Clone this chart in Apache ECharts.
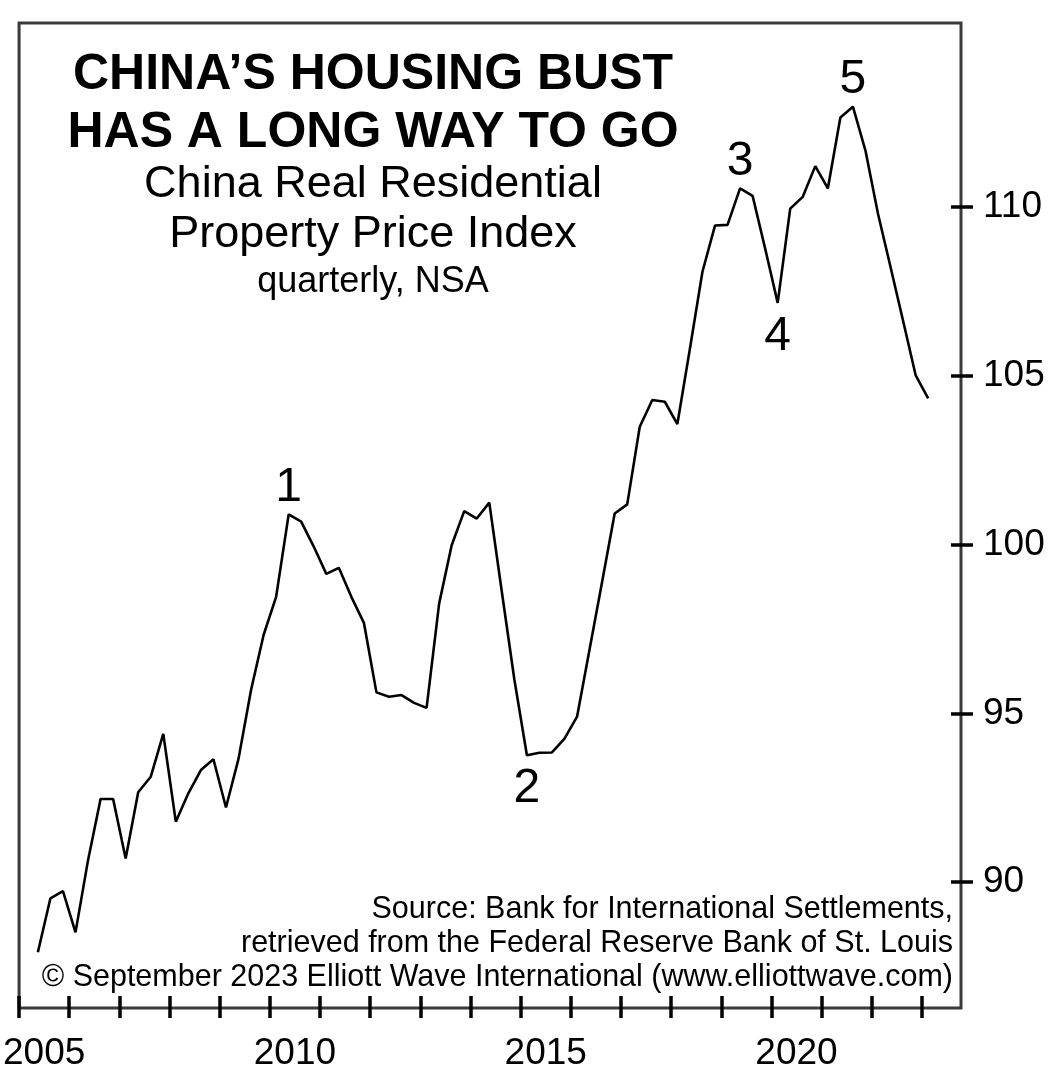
<!DOCTYPE html>
<html>
<head>
<meta charset="utf-8">
<script src="https://cdn.jsdelivr.net/npm/echarts@6/dist/echarts.min.js"></script>
<style>
html, body {margin: 0; padding: 0; background: #ffffff;}
#chart {width: 1060px; height: 1078px;}
</style>
</head>
<body>
<div id="chart"></div>
<script>
// quarterly observations, 2005Q2 .. 2023Q1
var quarters = [
	"2005Q2", "2005Q3", "2005Q4",
	"2006Q1", "2006Q2", "2006Q3", "2006Q4",
	"2007Q1", "2007Q2", "2007Q3", "2007Q4",
	"2008Q1", "2008Q2", "2008Q3", "2008Q4",
	"2009Q1", "2009Q2", "2009Q3", "2009Q4",
	"2010Q1", "2010Q2", "2010Q3", "2010Q4",
	"2011Q1", "2011Q2", "2011Q3", "2011Q4",
	"2012Q1", "2012Q2", "2012Q3", "2012Q4",
	"2013Q1", "2013Q2", "2013Q3", "2013Q4",
	"2014Q1", "2014Q2", "2014Q3", "2014Q4",
	"2015Q1", "2015Q2", "2015Q3", "2015Q4",
	"2016Q1", "2016Q2", "2016Q3", "2016Q4",
	"2017Q1", "2017Q2", "2017Q3", "2017Q4",
	"2018Q1", "2018Q2", "2018Q3", "2018Q4",
	"2019Q1", "2019Q2", "2019Q3", "2019Q4",
	"2020Q1", "2020Q2", "2020Q3", "2020Q4",
	"2021Q1", "2021Q2", "2021Q3", "2021Q4",
	"2022Q1", "2022Q2", "2022Q3", "2022Q4",
	"2023Q1"
];
var priceIndex = [
	87.92, 89.52, 89.73,
	88.51, 90.65, 92.46, 92.46,
	90.70, 92.66, 93.12, 94.39,
	91.79, 92.63, 93.32, 93.64,
	92.21, 93.65, 95.69, 97.32,
	98.45, 100.89, 100.68, 99.94,
	99.13, 99.31, 98.45, 97.68,
	95.62, 95.49, 95.54, 95.31,
	95.16, 98.25, 99.98, 100.99,
	100.77, 101.24, 98.60, 96.00,
	93.76, 93.83, 93.84, 94.25,
	94.90, 96.90, 98.90, 100.92,
	101.19, 103.49, 104.28, 104.23,
	103.57, 105.80, 108.08, 109.45,
	109.47, 110.55, 110.33, 108.77,
	107.16, 109.95, 110.30, 111.21,
	110.55, 112.65, 112.97, 111.67,
	109.80, 108.22, 106.63, 105.02,
	104.33
];
// Elliott wave counts
var waveQuarters = ["2010Q2", "2015Q1", "2019Q2", "2020Q1", "2021Q3"];
var waveNames = ["1", "2", "3", "4", "5"];
var waveSides = ["top", "bottom", "top", "bottom", "top"];

var yearTicks = [2005, 2006, 2007, 2008, 2009, 2010, 2011, 2012, 2013, 2014,
	2015, 2016, 2017, 2018, 2019, 2020, 2021, 2022, 2023];
var yearLabels = [2005, 2010, 2015, 2020];
var valueTicks = [90, 95, 100, 105, 110];

// quarter label -> decimal year at mid-quarter
function quarterPos(q) {
	return Number(q.slice(0, 4)) + (Number(q.slice(5)) - 0.5) / 4;
}

var font = "Liberation Sans, Arial, Helvetica, sans-serif";
var frameColor = "#3a3a3a";

var lineData = quarters.map(function (q, i) {
	return [quarterPos(q), priceIndex[i]];
});

var waveData = waveQuarters.map(function (q, i) {
	var idx = quarters.indexOf(q);
	var top = waveSides[i] == "top";
	return {
		value: [quarterPos(q), priceIndex[idx]],
		label: {
			show: true,
			formatter: waveNames[i],
			position: waveSides[i],
			distance: top ? 2 : 9,
			color: "#000000",
			opacity: 1,
			fontFamily: font,
			fontSize: 48
		}
	};
});

var myChart = echarts.init(document.getElementById("chart"));
var option = {
	backgroundColor: "#ffffff",
	animation: false,
	title: [{
		text: "CHINA’S HOUSING BUST\nHAS A LONG WAY TO GO",
		left: 368,
		top: 41,
		textAlign: "center",
		textStyle: {fontFamily: font, fontSize: 50, fontWeight: "bold", color: "#000", lineHeight: 58}
	}, {
		text: "China Real Residential\nProperty Price Index",
		left: 368,
		top: 155,
		textAlign: "center",
		textStyle: {fontFamily: font, fontSize: 45, fontWeight: "normal", color: "#000", lineHeight: 50}
	}, {
		text: "quarterly, NSA",
		left: 368,
		top: 257,
		textAlign: "center",
		textStyle: {fontFamily: font, fontSize: 36, fontWeight: "normal", color: "#000", lineHeight: 40}
	}, {
		text: "Source: Bank for International Settlements,\nretrieved from the Federal Reserve Bank of St. Louis\n© September 2023 Elliott Wave International (www.elliottwave.com)",
		left: 948,
		top: 888,
		textAlign: "right",
		textStyle: {fontFamily: font, fontSize: 30.5, fontWeight: "normal", color: "#000", lineHeight: 34, align: "right"}
	}],
	grid: {
		left: 17,
		top: 23,
		right: 99,
		bottom: 70,
		show: true,
		borderColor: frameColor,
		borderWidth: 3,
		backgroundColor: "transparent"
	},
	xAxis: [{
		type: "value",
		min: 2005,
		max: 2023.78,
		position: "bottom",
		axisLine: {show: false},
		splitLine: {show: false},
		axisTick: {show: true, inside: false, length: 10, customValues: yearTicks, lineStyle: {color: "#000", width: 3.5}},
		axisLabel: {
			show: true,
			customValues: yearLabels.map(function (y) { return y + 0.5; }),
			formatter: function (v) { return String(Math.floor(v)); },
			margin: 27,
			fontFamily: font,
			fontSize: 37,
			color: "#000"
		}
	}, {
		type: "value",
		min: 2005,
		max: 2023.78,
		position: "bottom",
		axisLine: {show: false},
		splitLine: {show: false},
		axisLabel: {show: false},
		axisTick: {show: true, inside: true, length: 12, customValues: yearTicks, lineStyle: {color: "#000", width: 3.5}}
	}],
	yAxis: [{
		type: "value",
		min: 86.27,
		max: 115.45,
		position: "right",
		axisLine: {show: false},
		splitLine: {show: false},
		axisTick: {show: true, inside: false, length: 12, customValues: valueTicks, lineStyle: {color: "#000", width: 3.5}},
		axisLabel: {
			show: true,
			customValues: valueTicks,
			margin: 22,
			fontFamily: font,
			fontSize: 37,
			color: "#000"
		}
	}, {
		type: "value",
		min: 86.27,
		max: 115.45,
		position: "right",
		axisLine: {show: false},
		splitLine: {show: false},
		axisLabel: {show: false},
		axisTick: {show: true, inside: true, length: 10, customValues: valueTicks, lineStyle: {color: "#000", width: 3.5}}
	}],
	series: [{
		name: "Real residential property price index",
		type: "line",
		xAxisIndex: 0,
		yAxisIndex: 0,
		data: lineData,
		showSymbol: false,
		lineStyle: {color: "#000", width: 2.6},
		z: 3
	}, {
		name: "Wave labels",
		type: "scatter",
		xAxisIndex: 0,
		yAxisIndex: 0,
		data: waveData,
		symbolSize: 1,
		itemStyle: {color: "rgba(0,0,0,0)"},
		label: {fontFamily: font, fontSize: 48, color: "#000"},
		z: 4
	}]
};
myChart.setOption(option);
</script>
</body>
</html>
